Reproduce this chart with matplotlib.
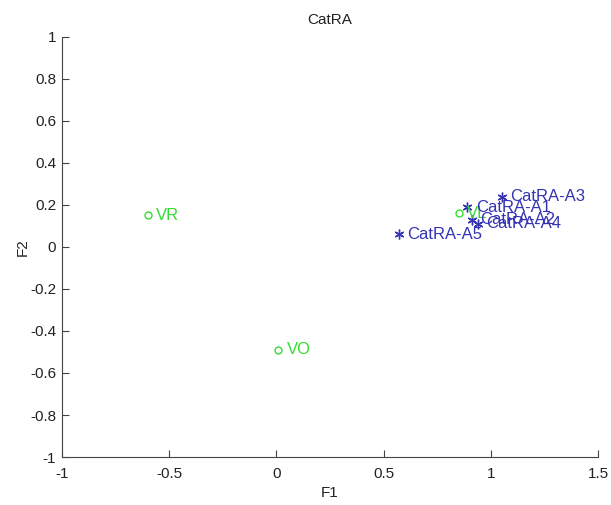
import matplotlib
matplotlib.use("Agg")
import matplotlib.pyplot as plt

plt.rcParams['font.family'] = ['Liberation Sans', 'DejaVu Sans']

# variables (green circles)
var_names = ["VR", "VO", "VL"]
var_f1 = [-0.60, 0.01, 0.85]
var_f2 = [0.15, -0.49, 0.16]

# individuals (blue stars)
ind_names = ["CatRA-A1", "CatRA-A2", "CatRA-A3", "CatRA-A4", "CatRA-A5"]
ind_f1 = [0.89, 0.91, 1.05, 0.94, 0.57]
ind_f2 = [0.19, 0.13, 0.24, 0.11, 0.06]

green = "#33dd33"
blue = "#3333b3"
grey = "#444444"

fig = plt.figure(figsize=(6.11, 5.05), dpi=100)
ax = fig.add_axes([0.101, 0.095, 0.878, 0.832])

ax.plot(var_f1, var_f2, "o", mfc="none", mec=green, ms=5, mew=1)
for n, x, y in zip(var_names, var_f1, var_f2):
    ax.text(x + 0.04, y, n, color=green, fontsize=12, va="center")

ax.plot(ind_f1, ind_f2, marker=(6, 2, 0), ls="none", color=blue, ms=7, mew=1.0)
for n, x, y in zip(ind_names, ind_f1, ind_f2):
    ax.text(x + 0.04, y, n, color=blue, fontsize=12, va="center")

ax.set_xlim(-1, 1.5)
ax.set_ylim(-1, 1)
ax.set_xticks([-1, -0.5, 0, 0.5, 1, 1.5])
ax.set_xticklabels(["-1", "-0.5", "0", "0.5", "1", "1.5"])
ax.set_yticks([-1, -0.8, -0.6, -0.4, -0.2, 0, 0.2, 0.4, 0.6, 0.8, 1])
ax.set_yticklabels(["-1", "-0.8", "-0.6", "-0.4", "-0.2", "0", "0.2", "0.4", "0.6", "0.8", "1"])

for s in ["top", "right"]:
    ax.spines[s].set_visible(False)
for s in ["left", "bottom"]:
    ax.spines[s].set_color(grey)
ax.tick_params(direction="in", length=5, colors=grey, labelcolor="#222222", labelsize=11)
ax.tick_params(axis="x", pad=7)
ax.tick_params(axis="y", pad=4)

ax.set_xlabel("F1", fontsize=11, color="#222222", labelpad=4)
ax.set_ylabel("F2", fontsize=11, color="#222222", labelpad=0)
ax.set_title("CatRA", fontsize=11, color="#222222", pad=9)

fig.savefig("out.png", dpi=100)
